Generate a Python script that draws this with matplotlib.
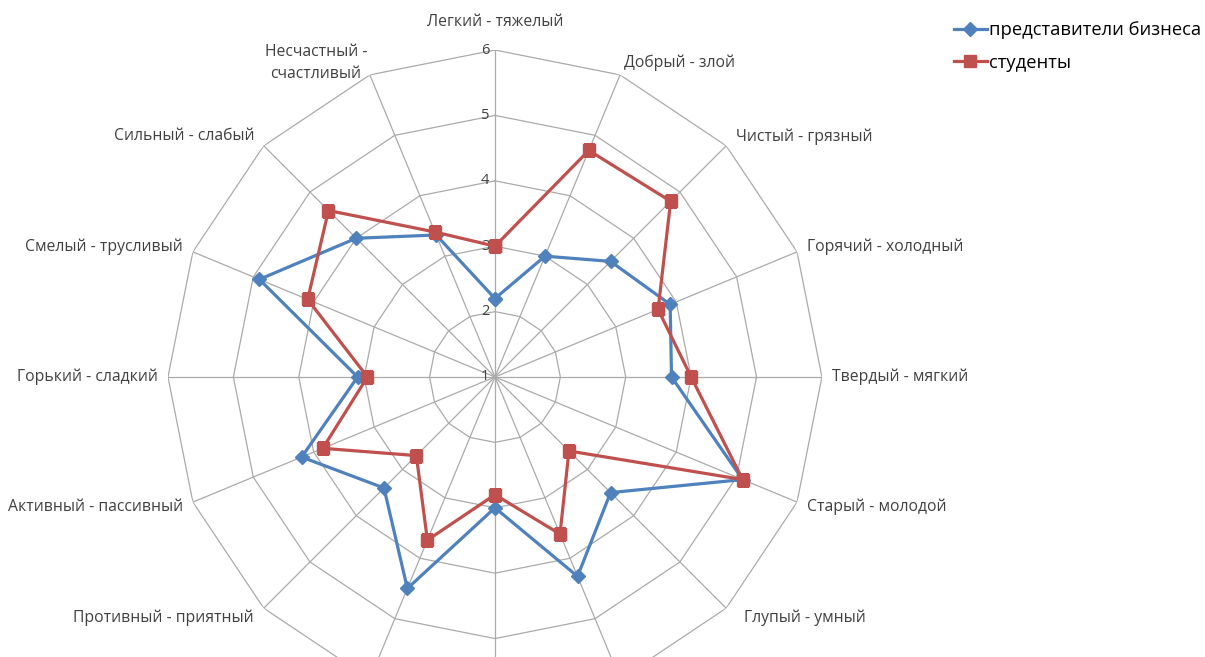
import numpy as np
import matplotlib.pyplot as plt

# Axis names (the three bottom ones are cut off in the source picture)
categories = ['Легкий - тяжелый', 'Добрый - злой', 'Чистый - грязный',
              'Горячий - холодный', 'Твердый - мягкий', 'Старый - молодой',
              'Глупый - умный', '', '', '',
              'Противный - приятный', 'Активный - пассивный', 'Горький - сладкий',
              'Смелый - трусливый', 'Сильный - слабый', 'Несчастный -\nсчастливый']

business = [2.2, 3.0, 3.5, 3.9, 3.7, 5.1, 3.5, 4.3,
            3.0, 4.5, 3.4, 4.2, 3.1, 4.9, 4.0, 3.35]
students = [3.0, 4.75, 4.8, 3.7, 4.0, 5.1, 2.6, 3.6,
            2.8, 3.7, 2.7, 3.85, 2.95, 4.1, 4.6, 3.4]

series_names = ['представители бизнеса', 'студенты']
rings = [1, 2, 3, 4, 5, 6]

plt.rcParams['font.family'] = ['Open Sans', 'DejaVu Sans']

fig = plt.figure(figsize=(12.05, 6.57), dpi=100)
ax = fig.add_axes([0.1394, -0.0715, 0.5427, 0.9954], projection='polar')
ax.set_theta_zero_location('N')
ax.set_theta_direction(-1)
ax.set_ylim(1, 6)
ax.grid(False)
ax.set_xticks([])
ax.set_yticks([])
ax.spines['polar'].set_visible(False)
ax.patch.set_visible(False)

n = len(categories)
angles = np.arange(n) * 2 * np.pi / n
closed = np.append(angles, angles[0])

grid_col = '#AAAAAA'
# polygon rings
for r in rings[1:]:
    ax.plot(closed, [r] * (n + 1), color=grid_col, lw=0.9, zorder=1)
# spokes
for a in angles:
    ax.plot([a, a], [1, 6], color=grid_col, lw=0.9, zorder=1)

# radial tick labels along the top spoke
for r in rings:
    ax.annotate(str(r), xy=(0, r), xytext=(-4, 0), textcoords='offset points',
                ha='right', va='center', fontsize=10.5, color='#404040')

# category labels
for a, lab in zip(angles, categories):
    s, c = np.sin(a), np.cos(a)
    if abs(s) < 0.1:
        ha, dx = 'center', 0
    elif s > 0:
        ha, dx = 'left', (7 if abs(s) > 0.5 else 3)
    else:
        ha, dx = 'right', (-7 if abs(s) > 0.5 else -2)
    if c < -0.6 and s > 0:
        dx += 6
    dy = 20 if c > 0.99 else 9.5 * c
    ax.annotate(lab, xy=(a, 6), xytext=(dx, dy), textcoords='offset points',
                ha=ha, va='center', fontsize=11.3, color='#404040',
                multialignment='center', linespacing=1.5)

b = ax.plot(closed, business + business[:1], color='#4F81BD', lw=2.3,
            marker='D', ms=7, zorder=3, label=series_names[0])
s_ = ax.plot(closed, students + students[:1], color='#C0504D', lw=2.3,
             marker='s', ms=9, zorder=4, label=series_names[1])

fig.legend(handles=[b[0], s_[0]], loc='upper left',
           bbox_to_anchor=(0.778, 0.993), frameon=False, fontsize=13.2,
           handlelength=1.8, handletextpad=0.1, labelspacing=0.8)

fig.savefig('out.png', dpi=100)
